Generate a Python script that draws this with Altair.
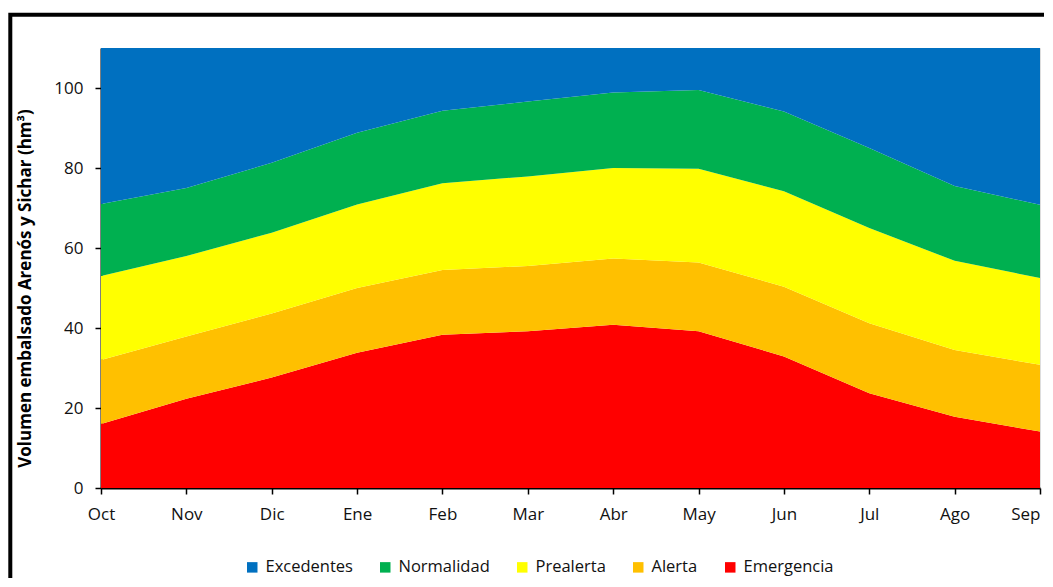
import altair as alt
import pandas as pd

months = ["Oct", "Nov", "Dic", "Ene", "Feb", "Mar", "Abr", "May", "Jun", "Jul", "Ago", "Sep"]
# upper boundary of each zone (hm3)
emergencia_top = [16.0, 22.3, 27.6, 33.8, 38.3, 39.2, 40.8, 39.2, 32.9, 23.7, 17.8, 14.1]
alerta_top = [32.0, 37.9, 43.6, 50.0, 54.5, 55.5, 57.4, 56.4, 50.3, 41.2, 34.5, 30.8]
prealerta_top = [53.0, 58.0, 63.8, 70.9, 76.2, 77.9, 80.0, 79.8, 74.2, 65.0, 56.8, 52.5]
normalidad_top = [71.0, 75.0, 81.3, 88.8, 94.3, 96.6, 98.9, 99.5, 94.1, 85.0, 75.5, 70.8]
excedentes_top = [110] * 12

zones = ["Excedentes", "Normalidad", "Prealerta", "Alerta", "Emergencia"]
colors = ["#0070C0", "#00B050", "#FFFF00", "#FFC000", "#FF0000"]

bounds = {
    "Emergencia": ([0] * 12, emergencia_top),
    "Alerta": (emergencia_top, alerta_top),
    "Prealerta": (alerta_top, prealerta_top),
    "Normalidad": (prealerta_top, normalidad_top),
    "Excedentes": (normalidad_top, excedentes_top),
}
rows = []
for z, (lo, hi) in bounds.items():
    for m, a, b in zip(months, lo, hi):
        rows.append({"mes": m, "zona": z, "lo": a, "hi": b, "orden": zones.index(z)})
df = pd.DataFrame(rows)

FONT = "Open Sans"

areas = alt.Chart(df).mark_area(interpolate="linear").encode(
    x=alt.X("mes:N", sort=months, scale=alt.Scale(type="point", padding=0),
            axis=alt.Axis(title=None, labelAngle=0, labelFontSize=17, labelColor="#111",
                          domainColor="#000", domainWidth=2, tickColor="#000", tickSize=6,
                          tickWidth=1.5, labelPadding=12, labelFont=FONT,
                          labelAlign={"condition": {"test": "datum.label == 'Sep'", "value": "right"},
                                      "value": "center"})),
    y=alt.Y("lo:Q", stack=None, scale=alt.Scale(domain=[0, 110], nice=False),
            axis=alt.Axis(title="Volumen embalsado Arenós y Sichar (hm³)", values=[0, 20, 40, 60, 80, 100],
                          labelFontSize=17, labelColor="#111", domainColor="#000", domainWidth=2,
                          tickColor="#000", tickSize=6, tickWidth=1.5, grid=False, labelFont=FONT,
                          labelPadding=12,
                          titleFont=FONT, titleFontSize=17, titleFontWeight="bold", titleColor="#000",
                          titleX=-76, titleY=240, titleAngle=270, titleAlign="center",
                          titleBaseline="middle")),
    y2="hi:Q",
    color=alt.Color("zona:N", scale=alt.Scale(domain=zones, range=colors),
                    legend=alt.Legend(title=None, orient="none", direction="horizontal",
                                      legendX=143, legendY=511, symbolType="square",
                                      symbolSize=110, symbolStrokeWidth=0, labelFontSize=16.5,
                                      labelFont=FONT, labelColor="#111", columnPadding=24,
                                      labelOffset=5)),
    order=alt.Order("orden:Q"),
)

frame = alt.Chart(pd.DataFrame({"k": [0]})).mark_rect(
    filled=False, stroke="#000", strokeWidth=4, clip=False
).encode(
    x=alt.value(-90.7), x2=alt.value(1100), y=alt.value(-33.3), y2=alt.value(600)
)

chart = alt.layer(areas, frame).properties(
    width=939, height=440,
    autosize=alt.AutoSizeParams(type="none"),
    padding={"left": 93, "top": 40, "right": 4, "bottom": 90},
).configure_view(stroke="#999", strokeWidth=1).configure(background="white")

chart.save("out.html", embed_options={"renderer": "svg", "actions": False})
